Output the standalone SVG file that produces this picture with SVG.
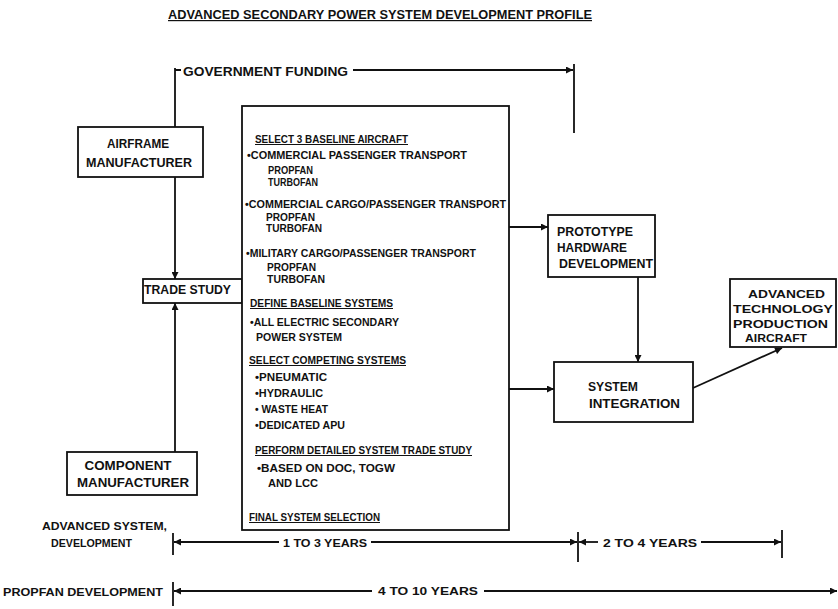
<svg xmlns="http://www.w3.org/2000/svg" width="838" height="609" viewBox="0 0 838 609">
  <style>
    text { font-family: "Liberation Sans", Arial, sans-serif; fill: #111; }
    .title { font-size: 12px; font-weight: bold; text-decoration: underline; }
    .lbl { font-size: 12px; font-weight: bold; }
    .sm { font-size: 11px; font-weight: bold; }
    .item { font-size: 10px; font-weight: bold; }
    .head { font-size: 10px; font-weight: bold; text-decoration: underline; }
    .box { fill: #fff; stroke: #111; stroke-width: 1.8; }
    .wire { fill: none; stroke: #111; stroke-width: 1.8; }
  </style>
  <defs>
    <marker id="arr" viewBox="0 0 10 10" refX="10" refY="5" markerWidth="8" markerHeight="7" markerUnits="userSpaceOnUse" orient="auto-start-reverse">
      <path d="M0,0 L10,5 L0,10 z" fill="#111"/>
    </marker>
  </defs>
  <rect width="838" height="609" fill="#fff"/>

  <text class="title" x="168" y="19" textLength="424" lengthAdjust="spacingAndGlyphs">ADVANCED SECONDARY POWER SYSTEM DEVELOPMENT PROFILE</text>

  <!-- funding bracket label -->
  <g id="government-funding">
    <text class="lbl" x="183" y="76" textLength="165" lengthAdjust="spacingAndGlyphs">GOVERNMENT FUNDING</text>
  </g>

  <g id="airframe-manufacturer">
    <rect class="box" x="78" y="127" width="125" height="50"/>
    <text class="lbl" x="138" y="148" text-anchor="middle" textLength="62" lengthAdjust="spacingAndGlyphs">AIRFRAME</text>
    <text class="lbl" x="139" y="167" text-anchor="middle" textLength="106" lengthAdjust="spacingAndGlyphs">MANUFACTURER</text>
  </g>

  <g id="trade-study">
    <rect class="box" x="143" y="279" width="99" height="24"/>
    <text class="lbl" x="144" y="294" textLength="87" lengthAdjust="spacingAndGlyphs">TRADE STUDY</text>
  </g>

  <g id="component-manufacturer">
    <rect class="box" x="67" y="452" width="130" height="43"/>
    <text class="lbl" x="128" y="470" text-anchor="middle" textLength="87" lengthAdjust="spacingAndGlyphs">COMPONENT</text>
    <text class="lbl" x="133" y="487" text-anchor="middle" textLength="112" lengthAdjust="spacingAndGlyphs">MANUFACTURER</text>
  </g>

  <g id="study-tasks">
    <rect class="box" x="242" y="106" width="267" height="424"/>
    <text class="head" x="255" y="143" textLength="153" lengthAdjust="spacingAndGlyphs">SELECT 3 BASELINE AIRCRAFT</text>
    <text class="item" x="247" y="159" textLength="220" lengthAdjust="spacingAndGlyphs">•COMMERCIAL PASSENGER TRANSPORT</text>
    <text class="item" x="268" y="174" textLength="45" lengthAdjust="spacingAndGlyphs">PROPFAN</text>
    <text class="item" x="268" y="186" textLength="50" lengthAdjust="spacingAndGlyphs">TURBOFAN</text>
    <text class="item" x="245" y="208" textLength="261" lengthAdjust="spacingAndGlyphs">•COMMERCIAL CARGO/PASSENGER TRANSPORT</text>
    <text class="item" x="266" y="221" textLength="49" lengthAdjust="spacingAndGlyphs">PROPFAN</text>
    <text class="item" x="266" y="232" textLength="56" lengthAdjust="spacingAndGlyphs">TURBOFAN</text>
    <text class="item" x="246" y="257" textLength="230" lengthAdjust="spacingAndGlyphs">•MILITARY CARGO/PASSENGER TRANSPORT</text>
    <text class="item" x="267" y="271" textLength="49" lengthAdjust="spacingAndGlyphs">PROPFAN</text>
    <text class="item" x="267" y="283" textLength="58" lengthAdjust="spacingAndGlyphs">TURBOFAN</text>
    <text class="head" x="250" y="307" textLength="143" lengthAdjust="spacingAndGlyphs">DEFINE BASELINE SYSTEMS</text>
    <text class="item" x="250" y="326" textLength="149" lengthAdjust="spacingAndGlyphs">•ALL ELECTRIC SECONDARY</text>
    <text class="item" x="256" y="341" textLength="86" lengthAdjust="spacingAndGlyphs">POWER SYSTEM</text>
    <text class="head" x="249" y="364" textLength="157" lengthAdjust="spacingAndGlyphs">SELECT COMPETING SYSTEMS</text>
    <text class="item" x="255" y="381" textLength="72" lengthAdjust="spacingAndGlyphs">•PNEUMATIC</text>
    <text class="item" x="255" y="397" textLength="68" lengthAdjust="spacingAndGlyphs">•HYDRAULIC</text>
    <text class="item" x="255" y="413" textLength="73" lengthAdjust="spacingAndGlyphs">• WASTE HEAT</text>
    <text class="item" x="255" y="429" textLength="90" lengthAdjust="spacingAndGlyphs">•DEDICATED APU</text>
    <text class="head" x="255" y="454" textLength="217" lengthAdjust="spacingAndGlyphs">PERFORM DETAILED SYSTEM TRADE STUDY</text>
    <text class="item" x="257" y="472" textLength="138" lengthAdjust="spacingAndGlyphs">•BASED ON DOC, TOGW</text>
    <text class="item" x="268" y="487" textLength="50" lengthAdjust="spacingAndGlyphs">AND LCC</text>
    <text class="head" x="249" y="521" textLength="131" lengthAdjust="spacingAndGlyphs">FINAL SYSTEM SELECTION</text>
  </g>

  <g id="prototype-hardware">
    <rect class="box" x="548" y="215" width="107" height="62"/>
    <text class="lbl" x="557" y="236" textLength="76" lengthAdjust="spacingAndGlyphs">PROTOTYPE</text>
    <text class="lbl" x="557" y="252" textLength="70" lengthAdjust="spacingAndGlyphs">HARDWARE</text>
    <text class="lbl" x="559" y="268" textLength="94" lengthAdjust="spacingAndGlyphs">DEVELOPMENT</text>
  </g>

  <g id="system-integration">
    <rect class="box" x="554" y="362" width="139" height="60"/>
    <text class="lbl" x="588" y="391" textLength="50" lengthAdjust="spacingAndGlyphs">SYSTEM</text>
    <text class="lbl" x="589" y="408" textLength="91" lengthAdjust="spacingAndGlyphs">INTEGRATION</text>
  </g>

  <g id="production-aircraft">
    <rect class="box" x="730" y="279" width="106" height="68"/>
    <text class="sm" x="748" y="298" textLength="77" lengthAdjust="spacingAndGlyphs">ADVANCED</text>
    <text class="sm" x="733" y="313" textLength="100" lengthAdjust="spacingAndGlyphs">TECHNOLOGY</text>
    <text class="sm" x="733" y="328" textLength="95" lengthAdjust="spacingAndGlyphs">PRODUCTION</text>
    <text class="sm" x="745" y="342" textLength="62" lengthAdjust="spacingAndGlyphs">AIRCRAFT</text>
  </g>

  <g id="timeline-labels">
    <text class="sm" x="42" y="530" textLength="125" lengthAdjust="spacingAndGlyphs">ADVANCED SYSTEM,</text>
    <text class="sm" x="51" y="547" textLength="81" lengthAdjust="spacingAndGlyphs">DEVELOPMENT</text>
    <text class="sm" x="283" y="547" textLength="84" lengthAdjust="spacingAndGlyphs">1 TO 3 YEARS</text>
    <text class="sm" x="603" y="547" textLength="94" lengthAdjust="spacingAndGlyphs">2 TO 4 YEARS</text>
    <text class="sm" x="3" y="596" textLength="160" lengthAdjust="spacingAndGlyphs">PROPFAN DEVELOPMENT</text>
    <text class="sm" x="378" y="595" textLength="100" lengthAdjust="spacingAndGlyphs">4 TO 10 YEARS</text>
  </g>

  <g id="connectors">
    <!-- funding bracket -->
    <path class="wire" d="M175,68 V127 M175,70 H181"/>
    <path class="wire" d="M353,70 H573" marker-end="url(#arr)"/>
    <path class="wire" d="M574,64 V133"/>
    <!-- manufacturers into trade study -->
    <path class="wire" d="M175,177 V279" marker-end="url(#arr)"/>
    <path class="wire" d="M175,452 V303" marker-end="url(#arr)"/>
    <!-- study outputs -->
    <path class="wire" d="M509,227 H548" marker-end="url(#arr)"/>
    <path class="wire" d="M509,389 H554" marker-end="url(#arr)"/>
    <path class="wire" d="M638,277 V362" marker-end="url(#arr)"/>
    <path class="wire" d="M693,388 L782,348" marker-end="url(#arr)"/>
    <!-- advanced system development span -->
    <path class="wire" d="M173,533 V555"/>
    <path class="wire" d="M279,542 H174" marker-end="url(#arr)"/>
    <path class="wire" d="M371,542 H577" marker-end="url(#arr)"/>
    <path class="wire" d="M578,532 V562"/>
    <path class="wire" d="M598,542 H579" marker-end="url(#arr)"/>
    <path class="wire" d="M701,542 H781" marker-end="url(#arr)"/>
    <path class="wire" d="M782,530 V558"/>
    <!-- propfan development span -->
    <path class="wire" d="M173,582 V606"/>
    <path class="wire" d="M372,591 H174" marker-end="url(#arr)"/>
    <path class="wire" d="M484,591 H837" marker-end="url(#arr)"/>
  </g>
</svg>
